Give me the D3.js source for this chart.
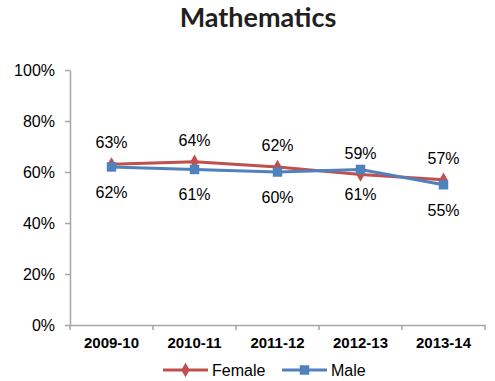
<!DOCTYPE html>
<html>
<head>
<meta charset="utf-8">
<script src="https://cdn.jsdelivr.net/npm/d3@7"></script>
<style>
  body { margin: 0; background: #fff; }
  svg { display: block; }
</style>
</head>
<body>
<svg id="chart" width="495" height="381"></svg>
<script>
// Data
const years = ["2009-10", "2010-11", "2011-12", "2012-13", "2013-14"];
const female = [63, 64, 62, 59, 57];
const male = [62, 61, 60, 61, 55];
const yTicks = [0, 20, 40, 60, 80, 100];

const svg = d3.select("#chart");
const plot = { left: 70, right: 485, top: 70, bottom: 325 };

const x = d3.scaleBand().domain(years).range([plot.left, plot.right]);
const y = d3.scaleLinear().domain([0, 100]).range([plot.bottom, plot.top]);

const axisColor = "#a6a6a6";
const sans = "'Liberation Sans', Arial, sans-serif";

// Title
svg.append("text")
  .attr("x", 258).attr("y", 27)
  .attr("text-anchor", "middle")
  .style("font-family", "Lato, 'Open Sans', sans-serif")
  .style("font-weight", "bold")
  .style("font-size", "27px")
  .style("fill", "#231f20")
  .text("Mathematics");

// Y axis
const yAxis = svg.append("g")
  .attr("transform", `translate(${plot.left},0)`)
  .call(d3.axisLeft(y).tickValues(yTicks).tickFormat(d => d + "%").tickSize(5).tickSizeOuter(0));
yAxis.select(".domain").attr("stroke", axisColor).attr("stroke-width", 1.5);
yAxis.selectAll(".tick line").attr("stroke", axisColor).attr("stroke-width", 1.5);
yAxis.selectAll(".tick text")
  .attr("x", -15)
  .style("font-family", sans)
  .style("font-size", "16px")
  .style("fill", "#000");

// X axis
const xAxis = svg.append("g")
  .attr("transform", `translate(0,${plot.bottom})`)
  .call(d3.axisBottom(x).tickSize(0).tickSizeOuter(0));
xAxis.select(".domain").attr("stroke", axisColor).attr("stroke-width", 1.5);
xAxis.selectAll(".tick text")
  .attr("y", 12)
  .style("font-family", sans)
  .style("font-size", "15px")
  .style("font-weight", "bold")
  .style("fill", "#000");
// Category boundary ticks
const bounds = years.map(d => x(d)).concat([x(years[years.length - 1]) + x.bandwidth()]);
xAxis.selectAll(".bound").data(bounds).enter().append("line")
  .attr("x1", d => d).attr("x2", d => d)
  .attr("y1", 0).attr("y2", 5)
  .attr("stroke", axisColor).attr("stroke-width", 1.5);

const cx = d => x(d) + x.bandwidth() / 2;

const series = [
  { name: "Female", values: female, color: "#c0504d", marker: d3.symbolDiamond, size: 60, labelDy: -16 },
  { name: "Male", values: male, color: "#4f81bd", marker: d3.symbolSquare, size: 90, labelDy: 31 }
];

const line = d3.line().x(d => d.x).y(d => d.y);

series.forEach(s => {
  const pts = years.map((yr, i) => ({ x: cx(yr), y: y(s.values[i]), v: s.values[i] }));
  svg.append("path")
    .datum(pts)
    .attr("d", line)
    .attr("fill", "none")
    .attr("stroke", s.color)
    .attr("stroke-width", 3);
  svg.selectAll(null).data(pts).enter().append("path")
    .attr("transform", d => `translate(${d.x},${d.y})`)
    .attr("d", d3.symbol().type(s.marker).size(s.size))
    .attr("fill", s.color);
});

// Data labels (female above, male below)
series.forEach(s => {
  svg.selectAll(null).data(years).enter().append("text")
    .attr("x", d => cx(d))
    .attr("y", (d, i) => y(s.values[i]) + s.labelDy)
    .attr("text-anchor", "middle")
    .style("font-family", sans)
    .style("font-size", "16px")
    .style("fill", "#000")
    .text((d, i) => s.values[i] + "%");
});

// Legend
const legend = svg.append("g");
const legendItems = [
  { s: series[0], x0: 163 },
  { s: series[1], x0: 282 }
];
legendItems.forEach(({ s, x0 }) => {
  const ly = 370;
  legend.append("line")
    .attr("x1", x0).attr("x2", x0 + 45)
    .attr("y1", ly).attr("y2", ly)
    .attr("stroke", s.color).attr("stroke-width", 3);
  legend.append("path")
    .attr("transform", `translate(${x0 + 22.5},${ly})`)
    .attr("d", d3.symbol().type(s.marker).size(s.size))
    .attr("fill", s.color);
  legend.append("text")
    .attr("x", x0 + 49).attr("y", ly + 6)
    .style("font-family", sans)
    .style("font-size", "16px")
    .style("fill", "#000")
    .text(s.name);
});
</script>
</body>
</html>
